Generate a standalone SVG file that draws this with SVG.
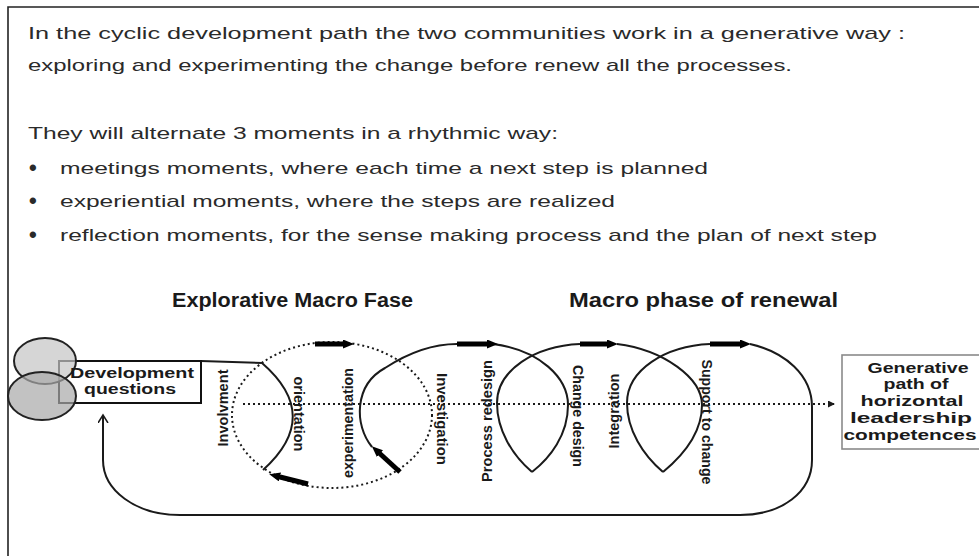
<svg xmlns="http://www.w3.org/2000/svg" width="979" height="556" viewBox="0 0 979 556">
<defs>
<style>
.body{font-family:"Liberation Sans",Arial,sans-serif;font-size:17px;fill:#2a2a2a}
.bul{font-family:"Liberation Sans",Arial,sans-serif;font-size:22px;font-weight:bold;fill:#2a2a2a}
.title{font-family:"Liberation Sans",Arial,sans-serif;font-size:20px;font-weight:bold;fill:#1a1a1a}
.lbl{font-family:"Liberation Sans",Arial,sans-serif;font-size:14px;font-weight:bold;fill:#1a1a1a}
.vl{font-family:"Liberation Sans",Arial,sans-serif;font-size:14px;font-weight:bold;fill:#1a1a1a;text-anchor:middle}
.solid{fill:none;stroke:#1a1a1a;stroke-width:2}
.dot{fill:none;stroke:#1a1a1a;stroke-width:2;stroke-dasharray:2 3}
.thick{fill:none;stroke:#000;stroke-width:5;marker-end:url(#ah)}
</style>
<marker id="ah" markerUnits="userSpaceOnUse" markerWidth="12" markerHeight="11" refX="4" refY="4.5" orient="auto">
<path d="M0,0 L11,4.5 L0,9 z" fill="#000"/>
</marker>
<marker id="sm" markerUnits="userSpaceOnUse" markerWidth="8" markerHeight="8" refX="6" refY="3.5" orient="auto">
<path d="M0,0 L7,3.5 L0,7 z" fill="#1a1a1a"/>
</marker>
<marker id="open" markerUnits="userSpaceOnUse" markerWidth="12" markerHeight="12" refX="8" refY="5" orient="auto">
<path d="M0,0 L8,5 L0,10" fill="none" stroke="#1a1a1a" stroke-width="1.5"/>
</marker>
</defs>
<rect width="979" height="556" fill="#fff"/>
<path d="M8,556 L8,7 L979,7" fill="none" stroke="#222" stroke-width="1.6"/>

<g id="intro">
<text class="body" x="28" y="39" textLength="877" lengthAdjust="spacingAndGlyphs">In the cyclic development path the two communities work in a generative way :</text>
<text class="body" x="28" y="71" textLength="764" lengthAdjust="spacingAndGlyphs">exploring and experimenting the change before renew all the processes.</text>
<text class="body" x="28" y="139" textLength="530" lengthAdjust="spacingAndGlyphs">They will alternate 3 moments in a rhythmic way:</text>
<text class="bul" x="29" y="175">•</text>
<text class="body" x="60" y="174" textLength="648" lengthAdjust="spacingAndGlyphs">meetings moments, where each time a next step is planned</text>
<text class="bul" x="29" y="208">•</text>
<text class="body" x="60" y="207" textLength="555" lengthAdjust="spacingAndGlyphs">experiential moments, where the steps are realized</text>
<text class="bul" x="29" y="242">•</text>
<text class="body" x="60" y="241" textLength="817" lengthAdjust="spacingAndGlyphs">reflection moments, for the sense making process and the plan of next step</text>
</g>

<g id="titles">
<text class="title" x="172" y="307" textLength="241" lengthAdjust="spacingAndGlyphs">Explorative Macro Fase</text>
<text class="title" x="569" y="307" textLength="269" lengthAdjust="spacingAndGlyphs">Macro phase of renewal</text>
</g>

<g id="connectors">
<path class="dot" d="M243,404 L834,404" marker-end="url(#sm)"/>
<ellipse class="dot" cx="332" cy="415" rx="100" ry="73"/>
<path class="solid" stroke-width="1.5" d="M201,361 L262,363"/>
<path class="solid" d="M262,363 Q323,416 263,470"/>
<path class="solid" d="M372,447 C354,425 354,385 385,368 C405,355 430,344 457,344"/>
<path class="solid" d="M493,344 C540,350 568,378 568,405 C568,435 550,458 532,472"/>
<path class="solid" d="M532,472 C512,455 497,430 497,403 C497,370 535,346 580,344"/>
<path class="solid" d="M617,344 C664,350 702,378 702,405 C702,435 680,458 663,472"/>
<path class="solid" d="M663,472 C643,455 627,430 627,403 C627,370 665,346 710,344"/>
<path class="solid" d="M750,344 C785,352 812,375 812,407 L812,460 C812,492 782,515 740,515 L180,515 C135,515 103,490 103,460 L103,415" stroke-width="1.6" marker-end="url(#open)"/>
<line class="thick" x1="315" y1="344" x2="347" y2="344"/>
<line class="thick" x1="457" y1="344" x2="491" y2="344"/>
<line class="thick" x1="580" y1="344" x2="611" y2="344"/>
<line class="thick" x1="710" y1="344" x2="744" y2="344"/>
<line class="thick" x1="308" y1="484" x2="276" y2="476"/>
<line class="thick" x1="400" y1="472" x2="377" y2="451"/>
</g>

<g id="dev-questions">
<rect x="59" y="361" width="142" height="42" fill="#fff" stroke="#111" stroke-width="2"/>
<ellipse cx="45" cy="361" rx="31" ry="23" fill="#c4c4c4" fill-opacity="0.7" stroke="#222" stroke-width="2"/>
<ellipse cx="42" cy="396" rx="34" ry="24" fill="#a8a8a8" fill-opacity="0.7" stroke="#222" stroke-width="2"/>
<text class="lbl" x="132" y="378" text-anchor="middle" font-size="15" textLength="124" lengthAdjust="spacingAndGlyphs">Development</text>
<text class="lbl" x="130" y="394" text-anchor="middle" font-size="15" textLength="92" lengthAdjust="spacingAndGlyphs">questions</text>
</g>

<g id="generative-path">
<rect x="842" y="355" width="146" height="94" fill="#fff" stroke="#8a8a8a" stroke-width="1.6"/>
<text class="vl" x="918" y="373" textLength="101" lengthAdjust="spacingAndGlyphs">Generative</text>
<text class="vl" x="916" y="389" textLength="65" lengthAdjust="spacingAndGlyphs">path of</text>
<text class="vl" x="912" y="406" textLength="103" lengthAdjust="spacingAndGlyphs">horizontal</text>
<text class="vl" x="911" y="423" textLength="122" lengthAdjust="spacingAndGlyphs">leadership</text>
<text class="vl" x="910" y="440" textLength="133" lengthAdjust="spacingAndGlyphs">competences</text>
</g>

<g id="moment-labels">
<text class="vl" transform="translate(228,408) rotate(-90)" textLength="77" lengthAdjust="spacingAndGlyphs">Involvment</text>
<text class="vl" transform="translate(294,414) rotate(90)" textLength="75" lengthAdjust="spacingAndGlyphs">orientation</text>
<text class="vl" transform="translate(353,423) rotate(-90)" textLength="110" lengthAdjust="spacingAndGlyphs">experimentation</text>
<text class="vl" transform="translate(437,419) rotate(90)" textLength="92" lengthAdjust="spacingAndGlyphs">Investigation</text>
<text class="vl" transform="translate(492,421) rotate(-90)" textLength="122" lengthAdjust="spacingAndGlyphs">Process redesign</text>
<text class="vl" transform="translate(573,416) rotate(90)" textLength="102" lengthAdjust="spacingAndGlyphs">Change design</text>
<text class="vl" transform="translate(619,411) rotate(-90)" textLength="75" lengthAdjust="spacingAndGlyphs">Integration</text>
<text class="vl" transform="translate(702,422) rotate(90)" textLength="125" lengthAdjust="spacingAndGlyphs">Support to change</text>
</g>
</svg>
